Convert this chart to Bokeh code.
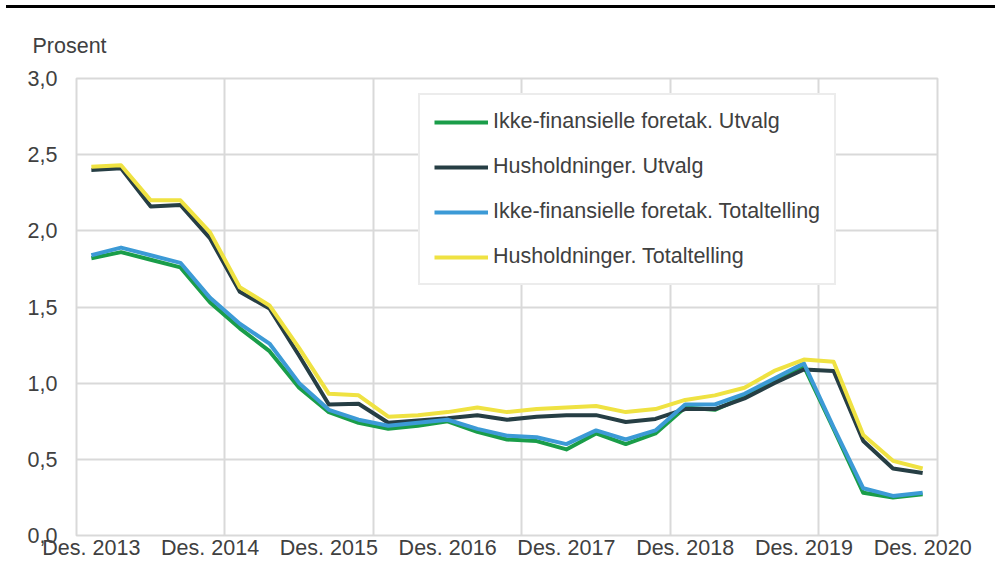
import numpy as np
from bokeh.plotting import figure
from bokeh.models import FixedTicker, CustomJSTickFormatter, Div
from bokeh.layouts import column
from bokeh.embed import file_html
from bokeh.resources import INLINE

# ---- data (quarterly, Dec 2013 - Dec 2020) ----
periods = ["Des. 2013", "Mar. 2014", "Jun. 2014", "Sep. 2014",
           "Des. 2014", "Mar. 2015", "Jun. 2015", "Sep. 2015",
           "Des. 2015", "Mar. 2016", "Jun. 2016", "Sep. 2016",
           "Des. 2016", "Mar. 2017", "Jun. 2017", "Sep. 2017",
           "Des. 2017", "Mar. 2018", "Jun. 2018", "Sep. 2018",
           "Des. 2018", "Mar. 2019", "Jun. 2019", "Sep. 2019",
           "Des. 2019", "Mar. 2020", "Jun. 2020", "Sep. 2020",
           "Des. 2020"]
tick_labels = ["Des. 2013", "Des. 2014", "Des. 2015", "Des. 2016",
               "Des. 2017", "Des. 2018", "Des. 2019", "Des. 2020"]
y_ticks = [0.0, 0.5, 1.0, 1.5, 2.0, 2.5, 3.0]

ikke_fin_utvalg = [1.82, 1.86, 1.81, 1.76, 1.53, 1.36, 1.21, 0.97, 0.81, 0.74,
                   0.70, 0.72, 0.75, 0.68, 0.63, 0.62, 0.565, 0.67, 0.60, 0.67,
                   0.84, 0.825, 0.91, 1.01, 1.11, 0.70, 0.28, 0.25, 0.27]
hush_utvalg = [2.40, 2.41, 2.16, 2.17, 1.95, 1.60, 1.49, 1.18, 0.86, 0.865,
               0.74, 0.755, 0.77, 0.79, 0.76, 0.78, 0.79, 0.79, 0.745, 0.765,
               0.83, 0.83, 0.90, 1.00, 1.09, 1.08, 0.62, 0.44, 0.41]
ikke_fin_total = [1.84, 1.89, 1.84, 1.79, 1.56, 1.39, 1.26, 1.00, 0.825, 0.76,
                  0.72, 0.74, 0.76, 0.70, 0.655, 0.645, 0.60, 0.69, 0.63, 0.69,
                  0.86, 0.86, 0.93, 1.03, 1.13, 0.71, 0.31, 0.26, 0.28]
hush_total = [2.42, 2.43, 2.20, 2.20, 1.99, 1.63, 1.51, 1.23, 0.93, 0.92,
              0.78, 0.79, 0.81, 0.84, 0.81, 0.83, 0.84, 0.85, 0.81, 0.83,
              0.89, 0.92, 0.97, 1.08, 1.155, 1.14, 0.66, 0.49, 0.44]

series_names = ["Ikke-finansielle foretak. Utvalg", "Husholdninger. Utvalg",
                "Ikke-finansielle foretak. Totaltelling", "Husholdninger. Totaltelling"]
series_values = [ikke_fin_utvalg, hush_utvalg, ikke_fin_total, hush_total]
series_colors = ["#1A9D49", "#263E44", "#3C9AD6", "#EFE242"]

FONT = "Liberation Sans"
FS = "21.5px"
TXT = "#404040"
GRID = "#d9d9d9"

x = np.arange(len(periods))
n = len(periods)

p = figure(width=995, height=554, output_backend="svg", toolbar_location=None,
           x_range=(-0.5, n - 0.5), y_range=(y_ticks[0], y_ticks[-1]),
           min_border_left=76, min_border_right=58, min_border_top=70,
           min_border_bottom=27)
p.background_fill_color = "white"
p.border_fill_color = "white"
p.outline_line_color = GRID
p.outline_line_width = 2

for name, vals, col in zip(series_names, series_values, series_colors):
    p.line(x, vals, line_color=col, line_width=4, line_join="round",
           legend_label=name)

# title used as unit label
p.title.text = "Prosent"
p.title.align = "left"
p.title.offset = -44
p.title.standoff = 42
p.title.text_font = FONT
p.title.text_font_size = FS
p.title.text_font_style = "normal"
p.title.text_color = TXT

# x axis
tick_pos = [periods.index(t) for t in tick_labels]
p.xaxis.ticker = FixedTicker(ticks=tick_pos)
p.xaxis.major_label_overrides = {i: t for i, t in zip(tick_pos, tick_labels)}
p.xaxis.axis_line_color = None
p.xaxis.major_tick_line_color = None
p.xaxis.minor_tick_line_color = None
p.xaxis.major_tick_out = 0
p.xaxis.major_tick_in = 0
p.xaxis.minor_tick_out = 0
p.xaxis.major_label_standoff = 0
p.xaxis.major_label_text_font = FONT
p.xaxis.major_label_text_font_size = FS
p.xaxis.major_label_text_color = TXT

# y axis
p.yaxis.ticker = FixedTicker(ticks=y_ticks)
p.yaxis.formatter = CustomJSTickFormatter(code="return tick.toFixed(1).replace('.', ',');")
p.yaxis.axis_line_color = None
p.yaxis.major_tick_line_color = None
p.yaxis.minor_tick_line_color = None
p.yaxis.major_tick_out = 0
p.yaxis.major_tick_in = 0
p.yaxis.minor_tick_out = 0
p.yaxis.major_label_standoff = 19
p.yaxis.major_label_text_font = FONT
p.yaxis.major_label_text_font_size = FS
p.yaxis.major_label_text_color = TXT

# grids
p.xgrid.ticker = FixedTicker(ticks=[-0.5 + 5 * k for k in range(6)])
p.xgrid.grid_line_color = GRID
p.xgrid.grid_line_width = 2
p.ygrid.grid_line_color = GRID
p.ygrid.grid_line_width = 2

# legend
lg = p.legend[0]
lg.location = (342, 250)
lg.border_line_color = GRID
lg.border_line_width = 2
lg.padding = 14
lg.spacing = 20
lg.glyph_width = 54
lg.glyph_height = 24
lg.label_height = 24
lg.label_standoff = 5
lg.label_text_font = FONT
lg.label_text_font_size = FS
lg.label_text_color = TXT
lg.background_fill_alpha = 1
lg.margin = 0

top_rule = Div(text="", width=989, height=3, margin=(5, 0, 0, 6),
               styles={"background-color": "black"})

layout = column(top_rule, p, spacing=0)
open("out.html", "w").write(file_html(layout, INLINE))
